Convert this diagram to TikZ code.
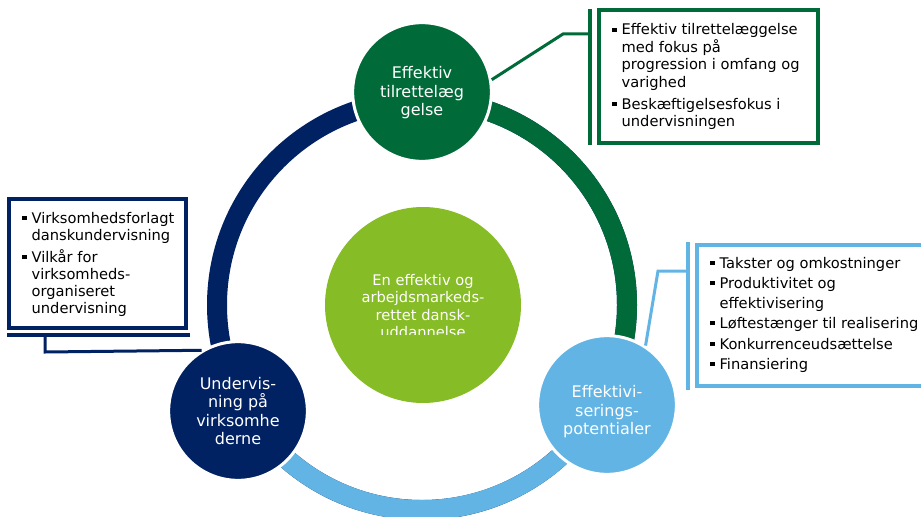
\documentclass[tikz,border=0pt]{standalone}
\usepackage{fontspec}
\setmainfont{DejaVu Sans}
\definecolor{dgreen}{RGB}{0,107,56}
\definecolor{navycol}{RGB}{0,33,98}
\definecolor{lblue}{RGB}{98,180,228}
\definecolor{lime}{RGB}{134,188,37}
\newcommand\bitem[1]{\par\hangindent=7pt\hangafter=1\noindent\makebox[7pt][l]{\rule[2.4pt]{3.2pt}{3.2pt}}#1}
\begin{document}
\begin{tikzpicture}[x=0.75pt,y=-0.75pt,
  ring/.style={line width=15pt},
  hub/.style={circle, draw=white, line width=2.25pt, minimum size=104pt, inner sep=0pt},
  ctext/.style={text=white, align=center, inner sep=0pt, font=\fontsize{12}{13.9}\selectfont},
  conn/.style={line width=2.25pt},
  bar/.style={line width=3pt},
  boxb/.style={draw, line width=3pt, fill=white, inner sep=0pt},
  btext/.style={anchor=base west, inner sep=0pt, font=\fontsize{11}{13.1}\selectfont}]
\clip (0,0) rectangle (921,517);
\coordinate (o) at (422,305);
% ring
\draw[ring, navycol] (o) circle (205);
\draw[ring, dgreen] (o) ++(-90:205) arc[start angle=-90, end angle=30, radius=205];
\draw[ring, lblue] (o) ++(30:205) arc[start angle=30, end angle=150, radius=205];
% centre
\node[circle, fill=lime, minimum size=147pt, inner sep=0pt] (hubc) at (423,305) {};
\begin{scope}
\clip (320,200) rectangle (530,334);
\node[ctext, font=\fontsize{11}{12.8}\selectfont] (tc) at (423,306) {En effektiv og\\arbejdsmarkeds-\\rettet dansk-\\uddannelse};
\end{scope}
% hubs
\node[hub, fill=dgreen] (ctop) at (422,92) {};
\node[hub, fill=navycol] (cbl) at (238,411) {};
\node[hub, fill=lblue] (cbr) at (607,405) {};
\node[ctext] (ttop) at (422,93) {Effektiv\\tilrettelæg\\gelse};
\node[ctext] (tbl) at (238,411) {Undervis-\\ning på\\virksomhe\\derne};
\node[ctext] (tbr) at (607,412) {Effektivi-\\serings-\\potentialer};
% green callout
\coordinate (g1) at (563,34);
\coordinate (g2) at (590,34);
\coordinate (gb1) at (590,9);
\coordinate (gb2) at (590,145);
\draw[conn, dgreen] (ctop.10) -- (g1) -- (g2);
\draw[bar, dgreen] (gb1) -- (gb2);
\node[boxb, draw=dgreen, minimum width=164.25pt, minimum height=99.75pt] (gbox) at (708.5,76.5) {};
\node[btext] (gtext) at (612,35) {\begin{minipage}[t]{200pt}\parskip=3.4pt
\bitem{Effektiv tilrettelæggelse\\med fokus på\\progression i omfang og\\varighed}
\bitem{Beskæftigelsesfokus i\\undervisningen}
\end{minipage}};
% blue callout
\coordinate (b1) at (658,271);
\coordinate (b2) at (688,271);
\coordinate (bb1) at (688,242);
\coordinate (bb2) at (688,390);
\draw[conn, lblue] (cbr.57) -- (b1) -- (b2);
\draw[bar, lblue] (bb1) -- (bb2);
\node[boxb, draw=lblue, minimum width=173.25pt, minimum height=105.75pt] (bbox) at (812.5,315.5) {};
\node[btext, font=\fontsize{11}{14.6}\selectfont] (btext) at (710,268) {\begin{minipage}[t]{200pt}\parskip=0.8pt
\bitem{Takster og omkostninger}
\bitem{Produktivitet og\\effektivisering}
\bitem{Løftestænger til realisering}
\bitem{Konkurrenceudsættelse}
\bitem{Finansiering}
\end{minipage}};
% navy callout
\coordinate (n1) at (45,352);
\coordinate (n2) at (45,335);
\coordinate (nb1) at (7,335);
\coordinate (nb2) at (190,335);
\draw[conn, navycol] (cbl.121) -- (n1) -- (n2);
\draw[bar, navycol] (nb1) -- (nb2);
\node[boxb, draw=navycol, minimum width=132.75pt, minimum height=96.75pt] (nbox) at (97.5,263.5) {};
\node[btext, font=\fontsize{11}{12.9}\selectfont] (ntext) at (22,223) {\begin{minipage}[t]{200pt}\parskip=3.6pt
\bitem{Virksomhedsforlagt\\danskundervisning}
\bitem{Vilkår for\\virksomheds-\\organiseret\\undervisning}
\end{minipage}};
\end{tikzpicture}
\end{document}
